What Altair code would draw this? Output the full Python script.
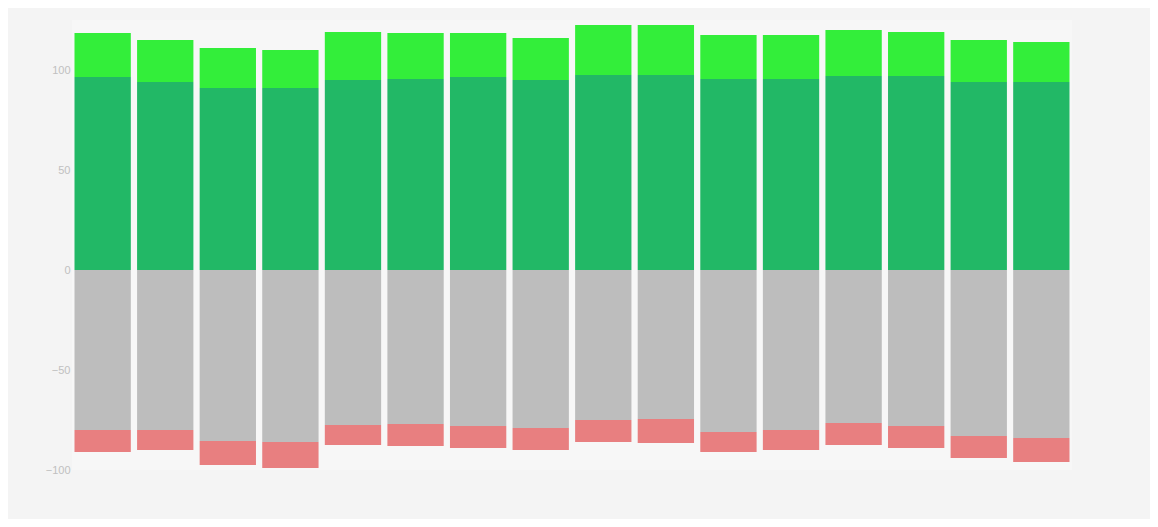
import altair as alt
import pandas as pd

categories = [f"W{i}" for i in range(1, 17)]
bright_green = [22, 21, 20, 19, 24, 23, 22, 21, 25, 25, 22, 22, 23, 22, 21, 20]
green = [96.5, 94, 91, 91, 95, 95.5, 96.5, 95, 97.5, 97.5, 95.5, 95.5, 97, 97, 94, 94]
gray = [-80, -80, -85.5, -86, -77.5, -77, -78, -79, -75, -74.5, -81, -80, -76.5, -78, -83, -84]
red = [-11, -10, -12, -13, -10, -11, -11, -11, -11, -12, -10, -10, -11, -11, -11, -12]

series = [
    ("Agree", green, 1),
    ("Strongly agree", bright_green, 2),
    ("Neutral", gray, 1),
    ("Disagree", red, 2),
]
rows = []
for name, vals, order in series:
    for c, v in zip(categories, vals):
        rows.append({"cat": c, "series": name, "value": v, "ord": order})
df = pd.DataFrame(rows)

color_scale = alt.Scale(
    domain=["Strongly agree", "Agree", "Neutral", "Disagree"],
    range=["#33ee3a", "#22b866", "#bdbdbd", "#e87f80"],
)

chart = (
    alt.Chart(df)
    .mark_bar()
    .encode(
        x=alt.X("cat:N", sort=categories,
                scale=alt.Scale(paddingInner=0.1, paddingOuter=0.04),
                axis=alt.Axis(labels=False, ticks=False, domain=False, title=None)),
        y=alt.Y("value:Q", stack="zero",
                scale=alt.Scale(domain=[-100, 125], nice=False, zero=True),
                axis=alt.Axis(title=None, grid=False, domain=False, ticks=False,
                              labelColor="#c0c0c0", labelFontSize=11, tickCount=5)),
        color=alt.Color("series:N", scale=color_scale, legend=None),
        order=alt.Order("ord:Q"),
    )
    .properties(width=1000, height=450, background="#f4f4f4",
                padding={"left": 64, "top": 12, "right": 78, "bottom": 49},
                autosize=alt.AutoSizeParams(type="none"))
    .configure_view(stroke=None, fill="#f7f7f7")
)

chart.save("out.html", embed_options={"renderer": "svg", "actions": False})
